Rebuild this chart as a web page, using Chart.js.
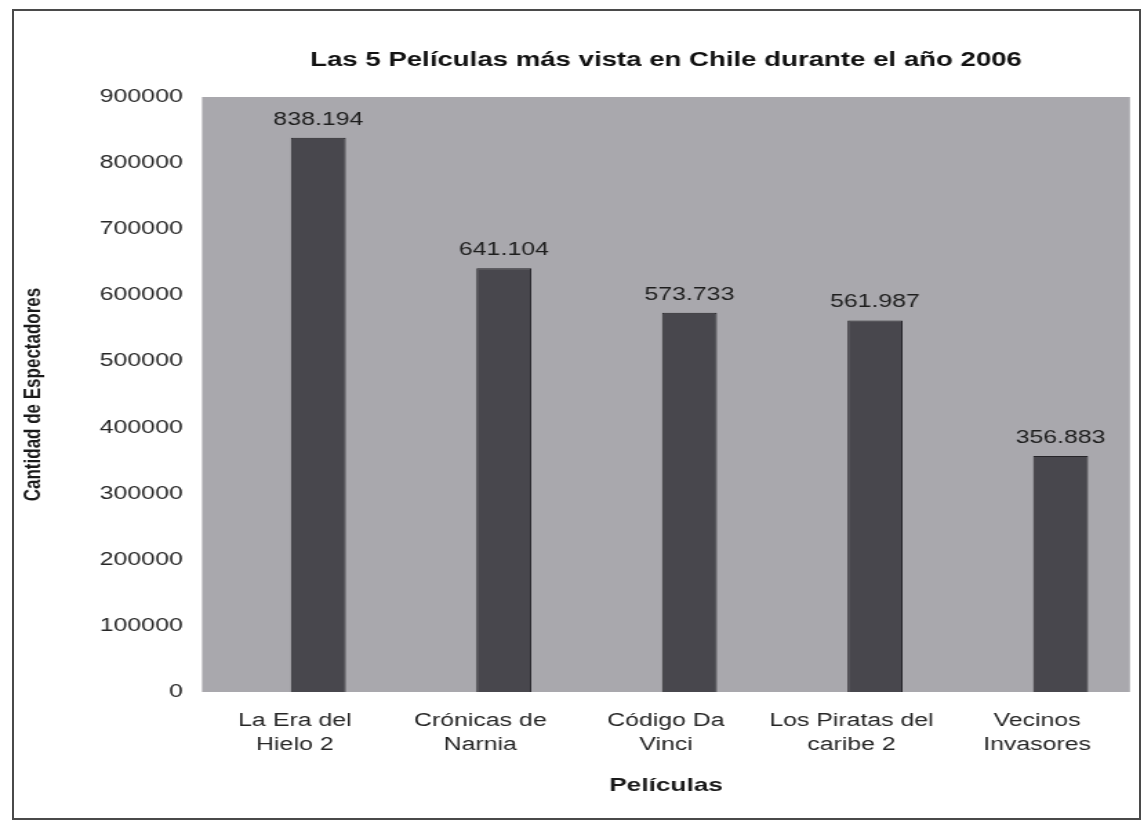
<!DOCTYPE html>
<html lang="es">
<head>
  <meta charset="UTF-8">
  <title>Las 5 Películas más vista en Chile durante el año 2006</title>
  <style>
    * {
      margin: 0;
      padding: 0;
      box-sizing: border-box;
    }

    body {
      width: 1143px;
      height: 822px;
      background: #fff;
      overflow: hidden;
      position: relative;
      font-family: "Liberation Sans", Arial, sans-serif;
    }

    /* scanned page frame */
    .frame {
      position: absolute;
      left: 12px;
      top: 9px;
      width: 1129px;
      height: 811px;
      border: 2px solid #4a4a4a;
      pointer-events: none;
    }

    /* the scan is stretched sideways, so draw narrow and widen */
    .chart-box {
      position: absolute;
      left: 0;
      top: 0;
      width: 828px;
      height: 822px;
      transform: scaleX(1.38);
      transform-origin: 0 0;
    }
  </style>
</head>
<body>

  <div class="chart-box"><canvas id="moviesChart"></canvas></div>
  <div class="frame"></div>

  <script src="https://cdn.jsdelivr.net/npm/chart.js"></script>
  <script>
    // Data
    const movies = [
      ['La Era del', 'Hielo 2'],
      ['Crónicas de', 'Narnia'],
      ['Código Da', 'Vinci'],
      ['Los Piratas del', 'caribe 2'],
      ['Vecinos', 'Invasores']
    ];
    const viewers = [838194, 641104, 573733, 561987, 356883];
    // the original had an empty first series, which pushes the bars right of the labels
    const emptySeries = [null, null, null, null, null];
    const yTicks = [0, 100000, 200000, 300000, 400000, 500000, 600000, 700000, 800000, 900000];

    const textColor = '#262626';

    function withDots(n) {
      return String(n).replace(/\B(?=(\d{3})+(?!\d))/g, '.');
    }

    // Gray plot area
    const plotBackground = {
      id: 'plotBackground',
      beforeDraw(chart) {
        const { ctx, chartArea: a } = chart;
        ctx.save();
        ctx.fillStyle = '#a9a8ad';
        ctx.fillRect(a.left, a.top, a.right - a.left, a.bottom - a.top);
        ctx.restore();
      }
    };

    // Value above each bar
    const valueLabels = {
      id: 'valueLabels',
      afterDatasetsDraw(chart) {
        const { ctx } = chart;
        const meta = chart.getDatasetMeta(1);
        ctx.save();
        ctx.font = '18px "Liberation Sans", Arial, sans-serif';
        ctx.fillStyle = '#1e1e1e';
        ctx.textAlign = 'center';
        ctx.textBaseline = 'middle';
        meta.data.forEach((bar, i) => {
          ctx.fillText(withDots(viewers[i]), bar.x, bar.y - 18);
        });
        ctx.restore();
      }
    };

    Chart.defaults.font.family = '"Liberation Sans", Arial, sans-serif';

    const ctx = document.getElementById('moviesChart').getContext('2d');
    const moviesChart = new Chart(ctx, {
      type: 'bar',
      data: {
        labels: movies,
        datasets: [
          { label: '', data: emptySeries },
          {
            label: 'Cantidad de Espectadores',
            data: viewers,
            backgroundColor: '#48474d',
            borderColor: '#262529',
            borderWidth: 1
          }
        ]
      },
      options: {
        responsive: true,
        maintainAspectRatio: false,
        animation: false,
        categoryPercentage: 0.506,
        barPercentage: 1.17,
        layout: { padding: { top: 48, right: 9.2, left: 0, bottom: 0 } },
        plugins: {
          legend: { display: false },
          tooltip: { enabled: false },
          title: {
            display: true,
            fullSize: false,
            text: 'Las 5 Películas más vista en Chile durante el año 2006',
            color: '#111',
            font: { size: 20, weight: 'bold' },
            padding: { top: 0, bottom: 25 }
          }
        },
        scales: {
          x: {
            grid: { display: false, drawTicks: false },
            border: { display: false },
            ticks: {
              color: textColor,
              font: { size: 18, lineHeight: 1.35 },
              padding: 17,
              maxRotation: 0,
              autoSkip: false
            },
            title: {
              display: true,
              text: 'Películas',
              color: '#1a1a1a',
              font: { size: 19, weight: 'bold' },
              padding: { top: 0, bottom: 25 }
            },
            afterFit(scale) { scale.height = 130; }
          },
          y: {
            min: 0,
            max: 900000,
            grid: { display: false, drawTicks: false },
            border: { display: false },
            ticks: {
              color: textColor,
              font: { size: 18 },
              padding: 14,
              callback: v => String(v)
            },
            afterBuildTicks(scale) {
              scale.ticks = yTicks.map(v => ({ value: v }));
            },
            title: {
              display: true,
              text: 'Cantidad de Espectadores',
              color: '#1a1a1a',
              font: { size: 17, weight: 'bold' },
              padding: { top: 14, bottom: 0 }
            },
            afterFit(scale) { scale.width = 146.4; }
          }
        }
      },
      plugins: [plotBackground, valueLabels]
    });
  </script>

</body>
</html>
